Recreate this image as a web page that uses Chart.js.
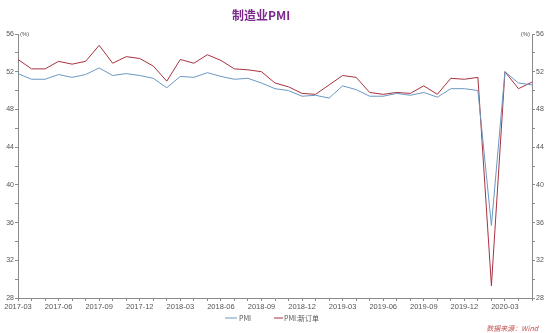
<!DOCTYPE html>
<html>
<head>
<meta charset="utf-8">
<script src="https://cdn.jsdelivr.net/npm/chart.js@4/dist/chart.umd.min.js"></script>
<style>
  html, body { margin: 0; padding: 0; background: #fff; }
  #wrap { width: 550px; height: 333px; }
</style>
</head>
<body>
<div id="wrap"><canvas id="pmi_chart"></canvas></div>
<script>
var months = [
  "2017-03","2017-04","2017-05","2017-06","2017-07","2017-08","2017-09","2017-10","2017-11","2017-12",
  "2018-01","2018-02","2018-03","2018-04","2018-05","2018-06","2018-07","2018-08","2018-09","2018-10","2018-11","2018-12",
  "2019-01","2019-02","2019-03","2019-04","2019-05","2019-06","2019-07","2019-08","2019-09","2019-10","2019-11","2019-12",
  "2020-01","2020-02","2020-03","2020-04","2020-05"
];
var pmi = [
  51.8, 51.2, 51.2, 51.7, 51.4, 51.7, 52.4, 51.6, 51.8, 51.6,
  51.3, 50.3, 51.5, 51.4, 51.9, 51.5, 51.2, 51.3, 50.8, 50.2, 50.0, 49.4,
  49.5, 49.2, 50.5, 50.1, 49.4, 49.4, 49.7, 49.5, 49.8, 49.3, 50.2, 50.2,
  50.0, 35.7, 52.0, 50.8, 50.6
];
var newOrders = [
  53.3, 52.3, 52.3, 53.1, 52.8, 53.1, 54.8, 52.9, 53.6, 53.4,
  52.6, 51.0, 53.3, 52.9, 53.8, 53.2, 52.3, 52.2, 52.0, 50.8, 50.4, 49.7,
  49.6, 50.6, 51.6, 51.4, 49.8, 49.6, 49.8, 49.7, 50.5, 49.6, 51.3, 51.2,
  51.4, 29.3, 52.0, 50.2, 50.9
];
var seriesNames = ["PMI", "PMI:新订单"];
var yMin = 28, yMax = 56;

var BLUE = '#6b98c2';
var RED = '#a8323f';
var AXIS = '#8a8a8a';
var TXT = '#555';
var FONT = '"Liberation Sans", Arial, sans-serif';

// 标题、(%)、图例和数据来源都直接画在画布上
var extras = {
  id: 'extras',
  afterDraw: function (chart) {
    var ctx = chart.ctx;
    var area = chart.chartArea;
    ctx.save();

    ctx.fillStyle = '#7b2a8c';
    ctx.font = 'bold 12px "Noto Sans CJK SC", sans-serif';
    ctx.textAlign = 'center';
    ctx.textBaseline = 'middle';
    ctx.fillText('制造业PMI', 261, 15);

    ctx.fillStyle = TXT;
    ctx.font = '6px ' + FONT;
    ctx.textAlign = 'left';
    ctx.fillText('(%)', area.left + 2, area.top);
    ctx.textAlign = 'right';
    ctx.fillText('(%)', area.right - 2, area.top);

    // 图例
    var ly = 318;
    ctx.lineWidth = 1;
    ctx.strokeStyle = BLUE;
    ctx.beginPath(); ctx.moveTo(225, ly); ctx.lineTo(237, ly); ctx.stroke();
    ctx.strokeStyle = RED;
    ctx.beginPath(); ctx.moveTo(274, ly); ctx.lineTo(283, ly); ctx.stroke();
    ctx.fillStyle = TXT;
    ctx.font = '7px "Noto Sans CJK SC", sans-serif';
    ctx.textAlign = 'left';
    ctx.fillText(seriesNames[0], 239, ly);
    ctx.fillText(seriesNames[1], 284, ly);

    ctx.fillStyle = '#c0504d';
    ctx.font = 'italic 7px "Noto Sans CJK SC", sans-serif';
    ctx.textAlign = 'right';
    ctx.fillText('数据来源：Wind', 538, 328);
    ctx.restore();
  }
};

function yTicks(v) {
  return v % 4 === 0 ? v : '';
}

new Chart(document.getElementById('pmi_chart').getContext('2d'), {
  type: 'line',
  data: {
    labels: months,
    datasets: [{
      label: seriesNames[0],
      data: pmi,
      borderColor: BLUE,
      borderWidth: 1,
      pointRadius: 0,
      tension: 0,
      yAxisID: 'y'
    }, {
      label: seriesNames[1],
      data: newOrders,
      borderColor: RED,
      borderWidth: 1,
      pointRadius: 0,
      tension: 0,
      yAxisID: 'y'
    }]
  },
  options: {
    responsive: true,
    maintainAspectRatio: false,
    animation: false,
    layout: { padding: { top: 34, left: 0, right: 0, bottom: 0 } },
    plugins: { legend: { display: false }, title: { display: false }, tooltip: { enabled: false } },
    scales: {
      x: {
        offset: false,
        grid: { drawOnChartArea: false, color: AXIS, tickLength: 3 },
        border: { color: AXIS },
        ticks: {
          autoSkip: false, maxRotation: 0, color: TXT, padding: 1,
          font: { size: 7.5, family: FONT },
          callback: function (v, i) { return i % 3 === 0 ? months[i] : ''; }
        },
        afterFit: function (s) { s.height = 35; }
      },
      y: {
        position: 'left', min: yMin, max: yMax,
        grid: { drawOnChartArea: false, color: AXIS, tickLength: 3 },
        border: { color: AXIS },
        ticks: { stepSize: 2, color: TXT, padding: 1, font: { size: 7, family: FONT }, callback: yTicks },
        afterFit: function (s) { s.width = 18; }
      },
      y1: {
        position: 'right', min: yMin, max: yMax,
        grid: { drawOnChartArea: false, color: AXIS, tickLength: 3 },
        border: { color: AXIS },
        ticks: { stepSize: 2, color: TXT, padding: 1, font: { size: 7, family: FONT }, callback: yTicks },
        afterFit: function (s) { s.width = 18; }
      }
    }
  },
  plugins: [extras]
});
</script>
</body>
</html>
